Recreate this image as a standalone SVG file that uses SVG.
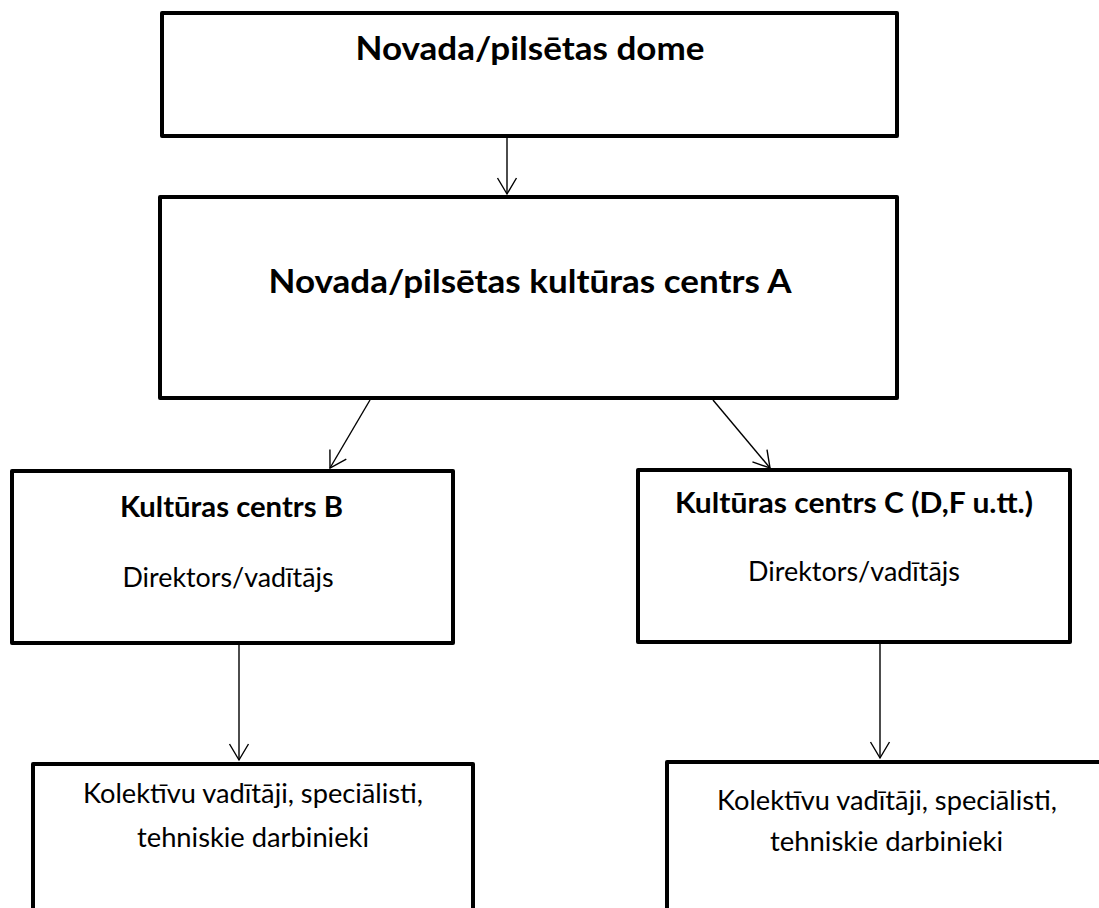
<svg xmlns="http://www.w3.org/2000/svg" width="1099" height="908" viewBox="0 0 1099 908">
<style>
.box{fill:#fff;stroke:#000;stroke-width:4;stroke-linejoin:round}
.h{font-family:Lato,"Liberation Sans",sans-serif;font-weight:bold;fill:#000;text-anchor:middle}
.t{font-family:Lato,"Liberation Sans",sans-serif;fill:#000;text-anchor:middle}
.c{fill:none;stroke:#000;stroke-width:1.4;marker-end:url(#arr)}
</style>
<defs>
<marker id="arr" markerUnits="userSpaceOnUse" markerWidth="22" markerHeight="24" viewBox="-19 -12 22 24" refX="0" refY="0" orient="auto">
<path d="M-16,-9.5 L0,0 L-16,9.5" fill="none" stroke="#000" stroke-width="1.4"/>
</marker>
</defs>
<rect width="1099" height="908" fill="#fff"/>
<g id="n1">
<rect class="box" x="162" y="13" width="735" height="123"/>
<text class="h" x="530" y="60" font-size="33" textLength="349" lengthAdjust="spacingAndGlyphs">Novada/pilsētas dome</text>
</g>
<g id="n2">
<rect class="box" x="160" y="197" width="737" height="201"/>
<text class="h" x="530" y="293" font-size="33" textLength="523" lengthAdjust="spacingAndGlyphs">Novada/pilsētas kultūras centrs A</text>
</g>
<g id="nB">
<rect class="box" x="12" y="471" width="441" height="172"/>
<text class="h" x="231.5" y="517" font-size="28" textLength="223" lengthAdjust="spacingAndGlyphs">Kultūras centrs B</text>
<text class="t" x="228" y="587" font-size="26" textLength="211" lengthAdjust="spacingAndGlyphs">Direktors/vadītājs</text>
</g>
<g id="nC">
<rect class="box" x="638" y="470" width="432" height="172"/>
<text class="h" x="854" y="513" font-size="28" textLength="358" lengthAdjust="spacingAndGlyphs">Kultūras centrs C (D,F u.tt.)</text>
<text class="t" x="854" y="581" font-size="26" textLength="212" lengthAdjust="spacingAndGlyphs">Direktors/vadītājs</text>
</g>
<g id="nBstaff">
<rect class="box" x="33" y="764" width="440" height="200"/>
<text class="t" x="253" y="803" font-size="26" textLength="340" lengthAdjust="spacingAndGlyphs">Kolektīvu vadītāji, speciālisti,</text>
<text class="t" x="253" y="847" font-size="26" textLength="232" lengthAdjust="spacingAndGlyphs">tehniskie darbinieki</text>
</g>
<g id="nCstaff">
<rect class="box" x="667" y="762" width="440" height="200"/>
<text class="t" x="887" y="810" font-size="26" textLength="340" lengthAdjust="spacingAndGlyphs">Kolektīvu vadītāji, speciālisti,</text>
<text class="t" x="886.5" y="851" font-size="26" textLength="233" lengthAdjust="spacingAndGlyphs">tehniskie darbinieki</text>
</g>
<g id="connectors">
<line class="c" x1="507" y1="138" x2="507" y2="194"/>
<line class="c" x1="370" y1="400" x2="330" y2="468"/>
<line class="c" x1="713" y1="400" x2="770" y2="468"/>
<line class="c" x1="239" y1="645" x2="239" y2="760"/>
<line class="c" x1="880" y1="644" x2="880" y2="758"/>
</g>
</svg>
